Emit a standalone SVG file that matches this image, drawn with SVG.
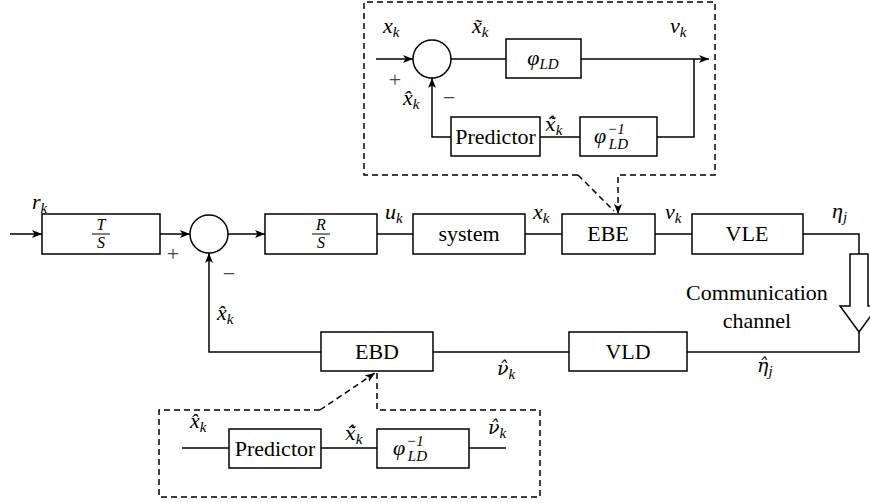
<svg xmlns="http://www.w3.org/2000/svg" width="870" height="503" viewBox="0 0 870 503">
<style>
.b{fill:#fff;stroke:#000;stroke-width:1.5}
.c{fill:none;stroke:#000;stroke-width:1.5}
.d{fill:none;stroke:#000;stroke-width:1.5;stroke-dasharray:6,4}
text{font-family:'Liberation Serif','DejaVu Serif',serif;fill:#000}
.t{font-size:22px}
.m{font-size:22px;font-style:italic}
.g{font-family:'DejaVu Serif','Liberation Serif',serif;font-size:19px;font-style:italic}
.s{font-size:15px}
.gs{font-family:'Liberation Serif','DejaVu Serif',serif;font-size:15px}
.o{font-size:22px;fill:#444}
</style>
<defs>
<marker id="arr" viewBox="0 0 10 8" refX="10" refY="4" markerWidth="10" markerHeight="8" orient="auto" markerUnits="userSpaceOnUse"><path d="M0,0 L10,4 L0,8 L2.5,4 z" fill="#000"/></marker>
</defs>

<g id="connectors">
<path class="c" d="M10,234 H42" marker-end="url(#arr)"/>
<path class="c" d="M160,234 H190" marker-end="url(#arr)"/>
<path class="c" d="M228,234 H265" marker-end="url(#arr)"/>
<path class="c" d="M377,234 H413"/>
<path class="c" d="M525,234 H562"/>
<path class="c" d="M655,234 H692"/>
<path class="c" d="M803,234 H859 V254"/>
<path class="c" d="M859,332 V352 H687"/>
<path class="c" d="M569,352 H433"/>
<path class="c" d="M321,352 H209 V253" marker-end="url(#arr)"/>
<path class="c" d="M376,59 H413" marker-end="url(#arr)"/>
<path class="c" d="M451,59 H506"/>
<path class="c" d="M581,59 H709" marker-end="url(#arr)"/>
<path class="c" d="M694,59 V137 H657"/>
<path class="c" d="M580,137 H540"/>
<path class="c" d="M451,137 H432 V78" marker-end="url(#arr)"/>
<path class="c" d="M182,448 H229"/>
<path class="c" d="M321,448 H377"/>
<path class="c" d="M469,448 H506"/>
<path class="d" d="M578,175 H364 V2 H715 V175 H618 V214" marker-end="url(#arr)"/>
<path class="d" d="M578,175 L614,211"/>
<path class="d" d="M320,410 H159 V497 H540 V410 H377 V372"/>
<path class="d" d="M320,410 L375,373" marker-end="url(#arr)"/>
</g>

<g id="channel">
<polygon class="b" points="850,254 868,254 868,306 878,306 859,332 840,306 850,306"/>
<text class="t" x="757" y="300" text-anchor="middle">Communication</text>
<text class="t" x="757" y="328" text-anchor="middle">channel</text>
</g>

<g id="TS">
<rect class="b" x="42" y="214" width="118" height="40"/>
<text class="m" x="101" y="230" text-anchor="middle" style="font-size:16px">T</text>
<line x1="92" y1="234" x2="110" y2="234" stroke="#000" stroke-width="1"/>
<text class="m" x="101" y="248" text-anchor="middle" style="font-size:16px">S</text>
</g>
<g id="sum1">
<circle class="b" cx="209" cy="234" r="19"/>
<text class="o" x="173" y="261" text-anchor="middle">+</text>
<text class="o" x="229" y="281" text-anchor="middle">−</text>
</g>
<g id="RS">
<rect class="b" x="265" y="214" width="112" height="40"/>
<text class="m" x="321" y="230" text-anchor="middle" style="font-size:16px">R</text>
<line x1="312" y1="234" x2="330" y2="234" stroke="#000" stroke-width="1"/>
<text class="m" x="321" y="248" text-anchor="middle" style="font-size:16px">S</text>
</g>
<g id="system">
<rect class="b" x="413" y="214" width="112" height="40"/>
<text class="t" x="469" y="241" text-anchor="middle">system</text>
</g>
<g id="EBE">
<rect class="b" x="562" y="214" width="93" height="40"/>
<text class="t" x="608" y="241" text-anchor="middle">EBE</text>
</g>
<g id="VLE">
<rect class="b" x="692" y="214" width="111" height="40"/>
<text class="t" x="747" y="241" text-anchor="middle">VLE</text>
</g>
<g id="VLD">
<rect class="b" x="569" y="332" width="118" height="39"/>
<text class="t" x="628" y="359" text-anchor="middle">VLD</text>
</g>
<g id="EBD">
<rect class="b" x="321" y="332" width="112" height="39"/>
<text class="t" x="377" y="359" text-anchor="middle">EBD</text>
</g>

<g id="main-labels">
<text class="m" x="32" y="209">r<tspan class="s" dy="4">k</tspan></text>
<text class="m" x="217" y="320">x̂<tspan class="s" dy="4">k</tspan></text>
<text class="m" x="385" y="219">u<tspan class="s" dy="4">k</tspan></text>
<text class="m" x="533" y="219">x<tspan class="s" dy="4">k</tspan></text>
<text class="m" x="665" y="219">ν<tspan class="s" dy="4">k</tspan></text>
<text class="m" x="832" y="218">η<tspan class="s" dy="4">j</tspan></text>
<text class="g" x="757" y="372">η̂<tspan class="gs" dy="4">j</tspan></text>
<text class="g" x="497" y="375">ν̂<tspan class="gs" dy="4">k</tspan></text>
</g>

<g id="encoder-detail">
<circle class="b" cx="432" cy="59" r="19"/>
<text class="o" x="395" y="87" text-anchor="middle">+</text>
<text class="o" x="449" y="105" text-anchor="middle">−</text>
<rect class="b" x="506" y="39" width="75" height="39"/>
<text class="m" x="543" y="65" text-anchor="middle">φ<tspan class="s" dy="4">LD</tspan></text>
<rect class="b" x="451" y="117" width="89" height="39"/>
<text class="t" x="495.5" y="144" text-anchor="middle">Predictor</text>
<rect class="b" x="580" y="117" width="77" height="39"/>
<text class="m" x="594" y="143">φ<tspan class="s" dx="1" dy="-9">−1</tspan><tspan class="s" dx="-16" dy="15">LD</tspan></text>
<text class="m" x="383" y="33">x<tspan class="s" dy="4">k</tspan></text>
<text class="m" x="472" y="33">x̃<tspan class="s" dy="4">k</tspan></text>
<text class="m" x="670" y="33">ν<tspan class="s" dy="4">k</tspan></text>
<text class="m" x="403" y="105">x̂<tspan class="s" dy="4">k</tspan></text>
<text class="g" x="545" y="131">x̃̂<tspan class="gs" dy="4">k</tspan></text>
</g>

<g id="decoder-detail">
<rect class="b" x="229" y="429" width="92" height="39"/>
<text class="t" x="275" y="456" text-anchor="middle">Predictor</text>
<rect class="b" x="377" y="429" width="92" height="39"/>
<text class="m" x="393" y="455">φ<tspan class="s" dx="1" dy="-9">−1</tspan><tspan class="s" dx="-16" dy="15">LD</tspan></text>
<text class="m" x="190" y="428">x̂<tspan class="s" dy="4">k</tspan></text>
<text class="g" x="345" y="440">x̃̂<tspan class="gs" dy="4">k</tspan></text>
<text class="g" x="488" y="434">ν̂<tspan class="gs" dy="4">k</tspan></text>
</g>
</svg>
